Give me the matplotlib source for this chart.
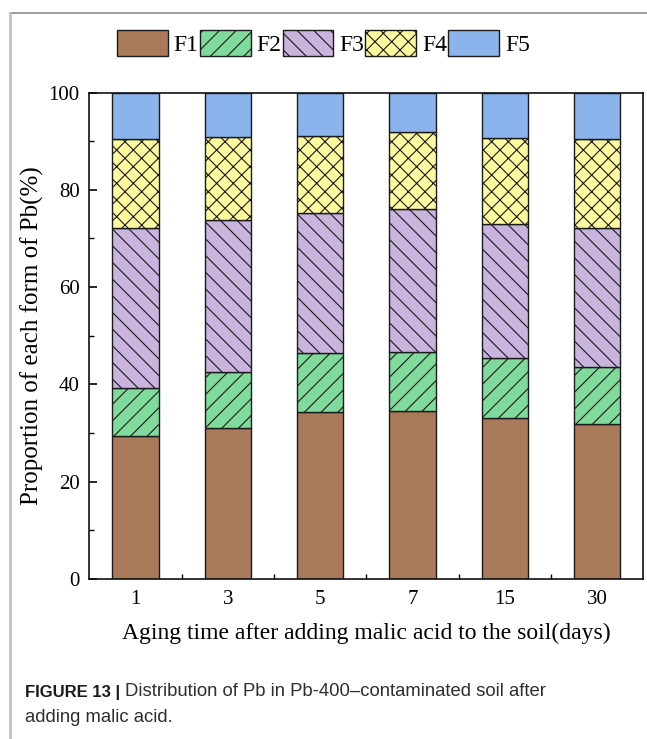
import matplotlib
matplotlib.use("Agg")
import matplotlib.pyplot as plt
from matplotlib.lines import Line2D
from matplotlib.ticker import MultipleLocator, FixedLocator
import numpy as np

# Aging times (days) and Pb fraction proportions (%) for each form
days = ["1", "3", "5", "7", "15", "30"]
F1 = [29.3, 31.1, 34.3, 34.6, 33.1, 31.9]
F2 = [10.0, 11.4, 12.2, 12.1, 12.4, 11.7]
F3 = [32.8, 31.2, 28.8, 29.3, 27.5, 28.5]
F4 = [18.4, 17.1, 15.7, 15.9, 17.7, 18.3]
F5 = [9.5, 9.2, 9.0, 8.1, 9.3, 9.6]

series_names = ["F1", "F2", "F3", "F4", "F5"]
series_vals = [F1, F2, F3, F4, F5]
colors = ["#a87a5a", "#80da9b", "#c9b4dd", "#fffaa0", "#8ab4eb"]
hatches = ["", "//", "\\\\", "xx", ""]

plt.rcParams["hatch.linewidth"] = 0.8
plt.rcParams["hatch.color"] = "#222222"
serif = ["Liberation Serif", "DejaVu Serif"]

fig = plt.figure(figsize=(6.47, 7.39), dpi=100)
ax = fig.add_axes([0.138, 0.2165, 0.9943 - 0.138, 0.8748 - 0.2165])

x = np.arange(len(days))
bottom = np.zeros(len(days))
handles = []
for name, vals, c, h in zip(series_names, series_vals, colors, hatches):
    v = np.array(vals)
    b = ax.bar(x, v, width=0.5, bottom=bottom, color=c, hatch=h,
               edgecolor="#1a1a1a", linewidth=1.0, label=name, zorder=2)
    handles.append(b)
    bottom += v

ax.set_xlim(-0.5, 5.5)
ax.set_ylim(0, 100)
ax.yaxis.set_major_locator(MultipleLocator(20))
ax.yaxis.set_minor_locator(MultipleLocator(10))
ax.set_xticks(x)
ax.set_xticklabels(days)
ax.xaxis.set_minor_locator(FixedLocator(x[:-1] + 0.5))

ax.tick_params(axis="both", which="major", direction="in", length=6, width=1.2,
               labelsize=15, pad=8)
ax.tick_params(axis="y", which="major", pad=7)
ax.tick_params(axis="both", which="minor", direction="in", length=3.5, width=1.0)
for lab in ax.get_xticklabels() + ax.get_yticklabels():
    lab.set_family(serif)
for s in ax.spines.values():
    s.set_linewidth(1.2)
    s.set_color("#111111")
    s.set_zorder(3)

ax.set_ylabel("Proportion of each form of Pb(%)", family=serif, fontsize=18,
              labelpad=3)
ax.set_xlabel("Aging time after adding malic acid to the soil(days)",
              family=serif, fontsize=17, labelpad=10)

fig.legend(handles=handles, labels=series_names, loc="center",
           bbox_to_anchor=(0.5, 0.942), ncol=5, frameon=False,
           prop={"family": serif, "size": 17}, handlelength=2.15,
           handleheight=1.3, handletextpad=0.25, columnspacing=0.05,
           borderaxespad=0)

# Frame lines around the figure panel
fig.add_artist(Line2D([10 / 647, 1], [1 - 13 / 739, 1 - 13 / 739],
                      transform=fig.transFigure, color="#8a8a8a", lw=1.2))
fig.add_artist(Line2D([10 / 647, 10 / 647], [0, 1 - 13 / 739],
                      transform=fig.transFigure, color="#c0c0c0", lw=2))

# Caption
t1 = fig.text(25 / 647, 1 - 692 / 739, "FIGURE 13 |", family="Liberation Sans",
              fontweight="bold", fontsize=12, color="#1a1a1a", va="center")
fig.canvas.draw()
bb = t1.get_window_extent()
fig.text((bb.x1 + 5) / fig.bbox.width, 1 - 692 / 739,
         "Distribution of Pb in Pb-400\u2013contaminated soil after",
         family="Liberation Sans", fontsize=13.3, color="#2e2e2e",
         va="center")
fig.text(25 / 647, 1 - 718 / 739, "adding malic acid.",
         family="Liberation Sans", fontsize=13.3, color="#2e2e2e",
         va="center")

fig.savefig("out.png", dpi=100)
